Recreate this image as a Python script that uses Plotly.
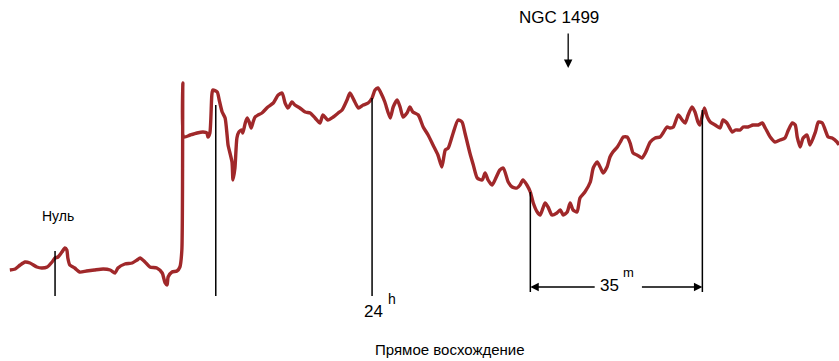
import plotly.graph_objects as go

# Drift scan through NGC 1499: right ascension offset from 24h (minutes)
ra_min = [
    -73.7, -72.6, -71.6, -70.6, -69.6, -68.2, -67.2, -66.1, -65.1, -64.5,
    -63.9, -63.1, -62.5, -62.1, -61.9, -61.5, -60.5, -59.5, -58.1, -56.5,
    -54.7, -53.3, -52.3, -51.7, -50.3, -48.8, -47.8, -47.2, -46.2, -45.2,
    -43.8, -42.7, -42.1, -41.7, -41.5, -40.7, -39.7, -39.1, -38.7, -38.5,
    -38.3, -37.0, -35.6, -34.4, -33.6, -33.4, -33.0, -32.6, -32.4, -31.5,
    -31.1, -30.5, -29.9, -29.5, -29.3, -28.5, -28.3, -27.9, -27.5, -27.1,
    -26.5, -26.3, -25.8, -25.4, -25.0, -24.6, -24.2, -23.8, -23.2, -22.4,
    -21.8, -21.2, -20.1, -19.1, -18.3, -17.7, -17.1, -16.3, -15.7, -14.7,
    -13.6, -12.6, -11.6, -10.6, -10.0, -9.0, -7.9, -6.9, -6.1, -5.1,
    -4.5, -3.5, -2.8, -1.8, -0.8, 0.0, 0.6, 1.2, 2.0, 2.6,
    3.7, 4.3, 5.1, 5.7, 6.3, 7.1, 7.7, 8.3, 9.4, 10.4,
    11.4, 12.4, 13.4, 14.2, 14.9, 15.5, 16.5, 17.5, 18.3, 18.9,
    19.9, 20.6, 21.4, 22.4, 23.0, 23.6, 24.4, 25.0, 26.0, 26.7,
    27.7, 28.5, 29.5, 30.1, 30.7, 31.5, 32.2, 32.8, 33.6, 34.2,
    35.2, 35.8, 36.6, 37.6, 38.3, 38.9, 39.7, 40.3, 40.9, 41.7,
    42.3, 43.3, 44.4, 45.0, 45.8, 46.4, 47.0, 47.8, 48.4, 49.0,
    49.9, 50.5, 51.1, 51.9, 52.5, 53.1, 53.9, 54.9, 55.6, 56.6,
    57.6, 58.6, 59.2, 60.0, 60.6, 61.3, 62.3, 63.1, 63.7, 64.3,
    65.1, 65.7, 66.3, 66.7, 67.6, 68.2, 68.8, 69.8, 70.8, 71.4,
    72.2, 73.3, 73.9, 74.9, 75.5, 76.5, 77.5, 78.6, 79.4, 80.0,
    81.0, 82.0, 83.0, 84.0, 84.7, 85.5, 86.1, 86.5, 87.1, 87.7,
    88.5, 89.1, 90.2, 90.8, 91.6, 92.2, 92.8, 93.6, 94.6, 95.0,
]

# Recorder deflection, arbitrary units (0 = zero level)
signal = [
    0.0, 0.1, 0.5, 0.8, 0.7, 0.3, 0.2, 0.3, 0.8, 1.2,
    1.3, 1.8, 2.2, 2.0, 1.2, 0.5, 0.2, -0.2, -0.1, 0.0,
    0.1, 0.0, -0.3, 0.2, 0.6, 0.7, 1.0, 1.2, 0.8, 0.3,
    0.2, -0.3, -1.3, -1.5, -0.7, -0.2, -0.1, 0.3, 2.0, 18.7,
    13.3, 13.5, 13.7, 13.8, 13.7, 13.3, 13.7, 17.5, 18.0, 17.8,
    17.0, 15.8, 15.2, 13.5, 12.5, 10.8, 9.0, 10.2, 13.2, 13.8,
    14.0, 13.7, 14.7, 15.2, 14.8, 14.2, 14.8, 15.3, 15.5, 15.7,
    16.0, 16.3, 16.7, 17.5, 17.7, 16.7, 16.2, 16.8, 16.5, 16.2,
    15.8, 15.7, 15.2, 14.7, 15.5, 15.0, 15.3, 15.7, 16.0, 17.0,
    17.7, 16.8, 16.2, 16.5, 16.7, 17.2, 18.0, 18.2, 17.5, 16.8,
    15.2, 16.3, 17.0, 16.3, 15.3, 15.7, 16.3, 15.8, 15.5, 14.3,
    13.5, 12.5, 11.5, 10.3, 12.0, 12.2, 13.7, 15.0, 14.8, 13.7,
    11.7, 10.5, 9.2, 9.0, 9.7, 9.0, 8.5, 9.0, 10.0, 10.2,
    8.8, 8.3, 8.2, 8.5, 9.0, 8.5, 7.8, 6.7, 5.8, 5.5,
    6.7, 6.3, 5.5, 5.7, 6.0, 5.5, 5.8, 6.7, 6.0, 5.8,
    7.2, 7.8, 8.8, 10.2, 10.8, 10.3, 9.7, 10.3, 11.3, 11.8,
    12.3, 12.8, 13.3, 13.3, 12.7, 11.7, 11.5, 11.2, 11.7, 12.8,
    13.2, 13.3, 13.7, 14.3, 14.2, 14.3, 15.5, 15.0, 14.7, 15.5,
    16.3, 15.8, 14.8, 14.5, 16.2, 15.3, 14.8, 14.5, 14.2, 15.0,
    14.7, 13.8, 14.0, 14.0, 14.3, 14.3, 14.5, 14.5, 14.7, 14.2,
    13.3, 12.8, 13.0, 13.2, 14.0, 14.7, 14.5, 13.3, 12.3, 13.2,
    13.5, 12.5, 13.8, 14.8, 14.7, 14.0, 13.3, 13.2, 12.8, 12.5,
]

# Reference ticks on the chart: (RA offset, top of tick)
tick_ra = [-64.5, -31.8, 0.0, 32.2, 67.2]
tick_top = [1.9, 16.5, 17.2, 7.8, 16.0]
tick_bottom = -2.6

# Scale bar between two ticks
span_start, span_end = 32.2, 67.2
span_level = -1.7
span_label = "35"

source_ra = 39.9          # position of NGC 1499 marker
x_range = [-75.7, 95.0]
y_range = [-9.1, 27.0]

INK = "black"
TRACE = "#a0282a"
FONT = "Liberation Sans, Arial, sans-serif"

fig = go.Figure()
fig.add_trace(go.Scatter(
    x=ra_min, y=signal, mode="lines",
    line=dict(color=TRACE, width=3.4, shape="spline", smoothing=0.6),
    hoverinfo="skip", showlegend=False,
))

shapes = []
for xr, yt in zip(tick_ra, tick_top):
    bottom = tick_bottom if xr < 20 else span_level - 0.5
    shapes.append(dict(type="line", xref="x", yref="y", x0=xr, x1=xr,
                       y0=yt, y1=bottom, line=dict(color=INK, width=1.5)))

annotations = [
    dict(x=-64.0, y=5.4, text="Нуль", showarrow=False,
         font=dict(family=FONT, size=14, color=INK)),
    dict(x=0.2, y=-4.1, text="24", showarrow=False,
         font=dict(family=FONT, size=17, color=INK)),
    dict(x=4.1, y=-2.9, text="h", showarrow=False,
         font=dict(family=FONT, size=14, color=INK)),
    dict(x=48.4, y=-1.5, text=span_label, showarrow=False,
         font=dict(family=FONT, size=17, color=INK)),
    dict(x=52.1, y=-0.2, text="m", showarrow=False,
         font=dict(family=FONT, size=13, color=INK)),
    dict(x=38.0, y=25.3, text="NGC 1499", showarrow=False,
         font=dict(family=FONT, size=17, color=INK)),
    dict(x=15.8, y=-7.9, text="Прямое восхождение", showarrow=False,
         font=dict(family=FONT, size=15, color=INK)),
    # arrow pointing at the source
    dict(x=source_ra, y=20.2, ax=source_ra, ay=23.8, xref="x", yref="y",
         axref="x", ayref="y", text="", showarrow=True, arrowhead=2,
         arrowsize=1.3, arrowwidth=1.3, arrowcolor=INK),
    # dimension arrows of the 35m span
    dict(x=span_start, y=span_level, ax=45.6, ay=span_level, xref="x",
         yref="y", axref="x", ayref="y", text="", showarrow=True,
         arrowhead=2, arrowsize=1.3, arrowwidth=1.3, arrowcolor=INK),
    dict(x=span_end, y=span_level, ax=54.6, ay=span_level, xref="x",
         yref="y", axref="x", ayref="y", text="", showarrow=True,
         arrowhead=2, arrowsize=1.3, arrowwidth=1.3, arrowcolor=INK),
]

fig.update_layout(
    width=839, height=361,
    margin=dict(l=0, r=0, t=0, b=0),
    paper_bgcolor="white", plot_bgcolor="white",
    xaxis=dict(range=x_range, visible=False, fixedrange=True),
    yaxis=dict(range=y_range, visible=False, fixedrange=True),
    shapes=shapes, annotations=annotations,
)

fig.write_html("out.html")
